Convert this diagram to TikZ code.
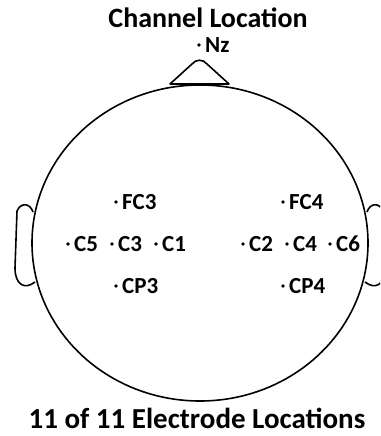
\documentclass[tikz,border=0pt]{standalone}
\usepackage{fontspec}
\setmainfont{Carlito}
\usetikzlibrary{positioning,shapes.geometric}
\tikzset{
  head/.style={ellipse, draw=black, line width=1.6pt, minimum width=336pt,
               minimum height=316pt, inner sep=0pt},
  outline/.style={draw=black, line width=1.6pt, line join=round},
  elec/.style={circle, fill=black, minimum size=3.6pt, inner sep=0pt},
  lbl/.style={font=\fontsize{23}{23}\selectfont\bfseries, inner sep=0pt},
  ttl/.style={font=\fontsize{28}{28}\selectfont\bfseries, inner sep=0pt},
}
\begin{document}
\begin{tikzpicture}[x=1pt,y=-1pt]
  \useasboundingbox (0,0) rectangle (380,436);
  \clip (0,0) rectangle (380,436);
  % --- head outline ---
  \node[head] (head) at (200,243) {};
  \coordinate (noseL) at (170,84);
  \coordinate (noseR) at (229,84);
  \draw[outline] (noseL) -- (192,64) .. controls (196,59) and (203,59) .. (207,64)
                 -- (noseR) -- cycle;
  % ears
  \coordinate (earLa) at (33,212);
  \coordinate (earLb) at (35,282);
  \coordinate (earRa) at (367,212);
  \coordinate (earRb) at (365,282);
  \draw[outline] (earLa) .. controls (30,203) and (21,202) .. (17,211)
                 -- (15,268) .. controls (15,285) and (25,290) .. (earLb);
  \draw[outline] (earRa) .. controls (370,203) and (379,202) .. (383,211)
                 -- (385,268) .. controls (385,285) and (375,290) .. (earRb);

  % --- electrodes ---
  \node[elec] (Nzdot)  at (199,45)  {};
  \node[elec] (FC3dot) at (116,202) {};
  \node[elec] (C5dot)  at (68,244)  {};
  \node[elec] (C3dot)  at (112,244) {};
  \node[elec] (C1dot)  at (156,244) {};
  \node[elec] (CP3dot) at (116,286) {};
  \node[elec] (FC4dot) at (283,202) {};
  \node[elec] (C2dot)  at (243,244) {};
  \node[elec] (C4dot)  at (287,244) {};
  \node[elec] (C6dot)  at (330,244) {};
  \node[elec] (CP4dot) at (283,286) {};

  \node[lbl,right=4pt of Nzdot]  (Nz)  {Nz};
  \node[lbl,right=4pt of FC3dot] (FC3) {FC3};
  \node[lbl,right=4pt of C5dot]  (C5)  {C5};
  \node[lbl,right=4pt of C3dot]  (C3)  {C3};
  \node[lbl,right=4pt of C1dot]  (C1)  {C1};
  \node[lbl,right=4pt of CP3dot] (CP3) {CP3};
  \node[lbl,right=4pt of FC4dot] (FC4) {FC4};
  \node[lbl,right=4pt of C2dot]  (C2)  {C2};
  \node[lbl,right=4pt of C4dot]  (C4)  {C4};
  \node[lbl,right=4pt of C6dot]  (C6)  {C6};
  \node[lbl,right=4pt of CP4dot] (CP4) {CP4};

  % --- captions ---
  \node[ttl] (title) at (208,18)  {Channel Location};
  \node[ttl,font=\fontsize{29}{29}\selectfont\bfseries] (count) at (197,418)
    {11 of 11 Electrode Locations};
\end{tikzpicture}
\end{document}
